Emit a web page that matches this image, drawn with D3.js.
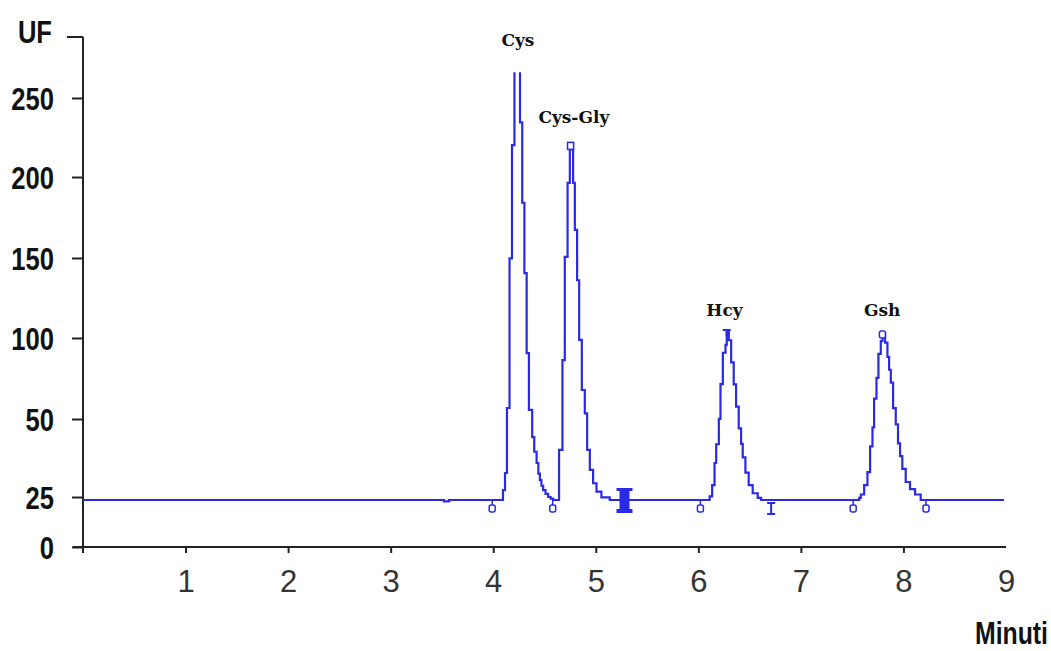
<!DOCTYPE html>
<html>
<head>
<meta charset="utf-8">
<script src="https://cdn.jsdelivr.net/npm/d3@7.9.0/dist/d3.min.js"></script>
<style>
  body { margin: 0; background: #fff; }
</style>
</head>
<body>
<svg id="chart" width="1051" height="651"></svg>
<script>
// ---- data ----
const xTicks = [1, 2, 3, 4, 5, 6, 7, 8, 9];
const yTicks = [0, 25, 50, 100, 150, 200, 250];
const yTop = 288; // top end of the UF axis

// [minutes, UF]
const baseline = [[0, 23.5], [3.52, 22.8], [3.57, 23.5]];
const cys = [[4.095, 27.2], [4.115, 32.7], [4.134, 56.8], [4.159, 149.8], [4.183, 220.2], [4.207, 290],
  [4.261, 234.6], [4.283, 184.1], [4.304, 140.5], [4.326, 90.7], [4.348, 55.6], [4.38, 44.2], [4.40, 39.5],
  [4.423, 35.9], [4.44, 32.5], [4.455, 30.4], [4.47, 28.6], [4.487, 27.2], [4.51, 26], [4.536, 25],
  [4.56, 24.2], [4.585, 23.5]];
const cysGly = [[4.642, 40.1], [4.675, 86.4], [4.698, 150.7], [4.725, 196.4], [4.747, 217.1], [4.754, 221.3],
  [4.779, 196.4], [4.796, 167.3], [4.818, 136.1], [4.838, 98.8], [4.864, 67.9], [4.893, 53.5], [4.916, 40.1],
  [4.942, 33.7], [4.974, 29.4], [5.007, 26.7], [5.055, 24.8], [5.136, 23.5]];
const hcy = [[6.11, 25.2], [6.135, 28.8], [6.158, 35.9], [6.174, 41.9], [6.2, 50.1], [6.216, 71.5], [6.239, 90.9],
  [6.265, 95.8], [6.277, 105], [6.297, 98.6], [6.32, 85], [6.345, 71.4], [6.368, 57.7], [6.394, 47], [6.417, 42],
  [6.433, 37.7], [6.459, 32.8], [6.491, 28.8], [6.53, 26.2], [6.579, 24.6], [6.612, 23.5]];
const gsh = [[7.568, 24.6], [7.584, 25.8], [7.617, 28.8], [7.649, 33], [7.675, 41.2], [7.698, 47.3], [7.714, 62.6],
  [7.737, 75.4], [7.756, 90.2], [7.779, 98.1], [7.795, 103.1], [7.821, 97.2], [7.844, 88.3], [7.86, 80.4],
  [7.877, 72.5], [7.899, 56.7], [7.925, 48.3], [7.947, 42.2], [7.967, 38.1], [7.989, 34], [8.022, 29.8],
  [8.064, 27.5], [8.113, 25.8], [8.168, 23.5]];
const baselineEnd = [[8.98, 23.5]];

const peakNames = ["Cys", "Cys-Gly", "Hcy", "Gsh"];
const peakLabelAt = [[4.241, 282.5], [4.786, 234.4], [6.255, 113.7], [7.792, 113.7]];

// integration marks on the baseline
const startEndMarks = [3.99, 4.58, 6.02, 7.51, 8.22];
const barMarks = [6.71];
const blockMarks = [5.28];
const baseValue = 23.5;
// apex marks
const apexSquare = [[4.754, 221.3]];
const apexT = [[6.277, 105]];
const apexO = [[7.795, 103.1]];

// ---- drawing ----
const svg = d3.select("#chart");
const blue = "#2a2ae6";
const axisColor = "#222";
const boldFont = "'Liberation Sans', Arial, sans-serif";
const squeeze = 0.8; // narrow bold face

const x = d3.scaleLinear().domain([0, 9]).range([83, 1006]);
const y = d3.scaleLinear()
    .domain([0, 25, 50, 100, 150, 200, yTicks[6], yTop])
    .range([547, 497, 419, 338, 258, 177, 98, 37]);

// y axis
let yAxisG = svg.append("g")
    .attr("transform", `translate(${x(0)},0)`)
    .call(d3.axisLeft(y).tickValues(yTicks).tickSize(11).tickSizeOuter(0).tickPadding(18));
yAxisG.select(".domain").remove();
yAxisG.selectAll("line").attr("stroke", axisColor).attr("stroke-width", 2);
yAxisG.selectAll("text")
    .attr("x", -29 / squeeze)
    .attr("dy", "0.36em")
    .attr("transform", `scale(${squeeze},1)`)
    .style("font-family", boldFont)
    .style("font-size", "32px")
    .style("font-weight", "bold")
    .attr("fill", "#111");

svg.append("line")
    .attr("x1", x(0)).attr("x2", x(0))
    .attr("y1", y(yTop)).attr("y2", y(0) + 6)
    .attr("stroke", axisColor).attr("stroke-width", 2);
svg.append("line")
    .attr("x1", x(0) - 16).attr("x2", x(0))
    .attr("y1", y(yTop)).attr("y2", y(yTop))
    .attr("stroke", axisColor).attr("stroke-width", 2);

// x axis
let xAxisG = svg.append("g")
    .attr("transform", `translate(0,${y(0)})`)
    .call(d3.axisBottom(x).tickValues(xTicks).tickSize(6).tickSizeOuter(0).tickPadding(17));
xAxisG.select(".domain").remove();
xAxisG.selectAll("line").attr("stroke", axisColor).attr("stroke-width", 2);
xAxisG.selectAll(".tick").filter(d => d === 9).select("line").remove();
xAxisG.selectAll("text")
    .style("font-family", "'Liberation Sans', Arial, sans-serif")
    .style("font-size", "31px")
    .attr("fill", "#333");

svg.append("line")
    .attr("x1", x(0) - 10).attr("x2", x(9))
    .attr("y1", y(0)).attr("y2", y(0))
    .attr("stroke", axisColor).attr("stroke-width", 2);

// axis titles
svg.append("text")
    .attr("transform", `translate(52,43) scale(${squeeze},1)`)
    .attr("text-anchor", "end")
    .style("font-family", boldFont).style("font-size", "32px").style("font-weight", "bold")
    .attr("fill", "#111")
    .text("UF");
svg.append("text")
    .attr("transform", `translate(1048,644) scale(${squeeze},1)`)
    .attr("text-anchor", "end")
    .style("font-family", boldFont).style("font-size", "31px").style("font-weight", "bold")
    .attr("fill", "#111")
    .text("Minuti");

// chromatogram trace, clipped at the top of the scale
svg.append("clipPath").attr("id", "plotClip")
    .append("rect")
    .attr("x", x(0)).attr("y", y(266))
    .attr("width", x(9) - x(0)).attr("height", y(0) - y(266));

const trace = [...baseline, ...cys, ...cysGly, ...hcy, ...gsh, ...baselineEnd];
const line = d3.line()
    .curve(d3.curveStepAfter)
    .x(d => x(d[0]))
    .y(d => y(d[1]));

svg.append("path")
    .datum(trace)
    .attr("clip-path", "url(#plotClip)")
    .attr("fill", "none")
    .attr("stroke", blue)
    .attr("stroke-width", 2.2)
    .attr("d", line);

// baseline integration marks
const y0 = y(baseValue);
startEndMarks.forEach(t => {
    let g = svg.append("g").attr("transform", `translate(${x(t)},${y0})`);
    g.append("line").attr("x1", 0).attr("x2", 0).attr("y1", 0).attr("y2", 5)
        .attr("stroke", blue).attr("stroke-width", 1.5);
    g.append("rect").attr("x", -3).attr("y", 5).attr("width", 6).attr("height", 7).attr("rx", 2)
        .attr("fill", "#fff").attr("stroke", blue).attr("stroke-width", 1.5);
});
barMarks.forEach(t => {
    let g = svg.append("g").attr("transform", `translate(${x(t)},${y0})`);
    g.append("path").attr("d", "M-4,3H4M0,3V14M-4,14H4")
        .attr("fill", "none").attr("stroke", blue).attr("stroke-width", 2);
});
blockMarks.forEach(t => {
    svg.append("path")
        .attr("transform", `translate(${x(t)},${y0})`)
        .attr("d", "M-8,-12H8V-9H5V9H8V13H-8V9H-5V-9H-8Z")
        .attr("fill", blue);
});

// apex marks
apexSquare.forEach(d => {
    svg.append("rect").attr("x", x(d[0]) - 3).attr("y", y(d[1]) - 1).attr("width", 6).attr("height", 7)
        .attr("fill", "#fff").attr("stroke", blue).attr("stroke-width", 1.5);
});
apexT.forEach(d => {
    svg.append("path").attr("transform", `translate(${x(d[0])},${y(d[1])})`)
        .attr("d", "M-4,0H4M0,0V6")
        .attr("fill", "none").attr("stroke", blue).attr("stroke-width", 2);
});
apexO.forEach(d => {
    svg.append("rect").attr("x", x(d[0]) - 3).attr("y", y(d[1]) - 2).attr("width", 6).attr("height", 7).attr("rx", 2)
        .attr("fill", "#fff").attr("stroke", blue).attr("stroke-width", 1.5);
});

// peak names
svg.selectAll(".peak-label")
    .data(peakNames)
    .enter().append("text")
    .attr("class", "peak-label")
    .attr("x", (d, i) => x(peakLabelAt[i][0]))
    .attr("y", (d, i) => y(peakLabelAt[i][1]))
    .attr("text-anchor", "middle")
    .style("font-family", "'DejaVu Serif', serif")
    .style("font-size", "17px")
    .style("font-weight", "bold")
    .attr("fill", "#111")
    .text(d => d);
</script>
</body>
</html>
